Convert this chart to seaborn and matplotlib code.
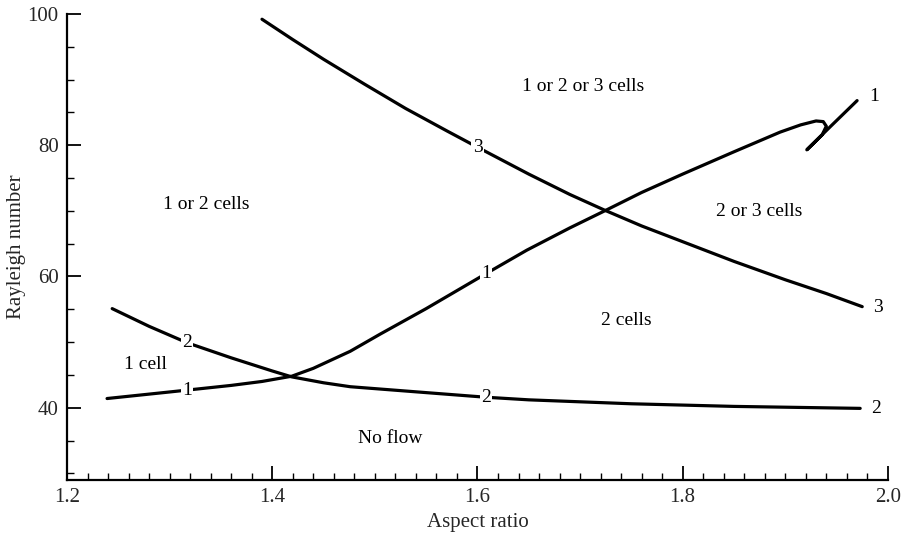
import numpy as np
import pandas as pd
import matplotlib
matplotlib.use("Agg")
import matplotlib.pyplot as plt
import seaborn as sns
from matplotlib.ticker import MultipleLocator

# curve 1 (one-cell onset), ends in a fold near aspect ratio 1.93
x1 = [1.239, 1.30, 1.36, 1.39, 1.419, 1.44, 1.476, 1.505, 1.55, 1.608, 1.648, 1.69, 1.724,
      1.76, 1.80, 1.85, 1.895, 1.915, 1.930, 1.937, 1.940, 1.936, 1.921, 1.945, 1.970]
y1 = [41.4, 42.4, 43.4, 44.0, 44.8, 46.0, 48.6, 51.2, 55.1, 60.4, 64.0, 67.4, 70.0,
      72.8, 75.6, 79.0, 82.0, 83.1, 83.7, 83.6, 82.9, 81.6, 79.3, 83.0, 86.8]

# curve 2 (two-cell onset)
x2 = [1.244, 1.28, 1.317, 1.36, 1.40, 1.419, 1.45, 1.476, 1.55, 1.608, 1.65, 1.75, 1.85, 1.973]
y2 = [55.1, 52.4, 49.9, 47.6, 45.6, 44.7, 43.8, 43.2, 42.3, 41.6, 41.2, 40.6, 40.2, 39.9]

# curve 3 (three-cell onset)
x3 = [1.39, 1.42, 1.45, 1.49, 1.53, 1.57, 1.60, 1.65, 1.69, 1.724, 1.76, 1.80, 1.85, 1.90, 1.94, 1.975]
y3 = [99.2, 96.1, 93.1, 89.3, 85.6, 82.2, 79.7, 75.6, 72.5, 70.1, 67.7, 65.3, 62.3, 59.5, 57.4, 55.4]

# inline curve labels
lab_text = ["1", "1", "1", "2", "2", "2", "3", "3"]
lab_x = [1.317, 1.608, 1.982, 1.317, 1.608, 1.984, 1.600, 1.986]
lab_y = [42.6, 60.5, 87.4, 49.9, 41.6, 39.9, 79.7, 55.3]

# region labels
reg_text = ["1 or 2 or 3 cells", "1 or 2 cells", "2 or 3 cells", "2 cells", "1 cell", "No flow"]
reg_x = [1.703, 1.336, 1.875, 1.745, 1.276, 1.515]
reg_y = [88.9, 70.9, 69.9, 53.3, 46.6, 35.3]

sns.set_theme(style="ticks")
plt.rcParams["font.family"] = ["Liberation Serif", "DejaVu Serif"]

fig, ax = plt.subplots(figsize=(9.06, 5.38), dpi=100)
fig.subplots_adjust(left=0.074, right=0.980, top=0.974, bottom=0.108)

for xs, ys in [(x1, y1), (x2, y2), (x3, y3)]:
    df = pd.DataFrame({"x": xs, "y": ys})
    sns.lineplot(data=df, x="x", y="y", sort=False, estimator=None,
                 color="black", linewidth=2.3, ax=ax)

for t, x, y in zip(lab_text, lab_x, lab_y):
    ha = "left" if x > 1.97 else "center"
    ax.text(x, y, t, ha=ha, va="center", fontsize=14, color="black",
            bbox=dict(facecolor="white", edgecolor="none", pad=0.8), zorder=5)

for t, x, y in zip(reg_text, reg_x, reg_y):
    ax.text(x, y, t, ha="center", va="center", fontsize=14, color="black")

ax.set_xlim(1.2, 2.0)
ax.set_ylim(29, 100)
ax.xaxis.set_major_locator(MultipleLocator(0.2))
ax.xaxis.set_minor_locator(MultipleLocator(0.02))
ax.yaxis.set_major_locator(MultipleLocator(20))
ax.yaxis.set_minor_locator(MultipleLocator(5))
ax.xaxis.set_major_formatter(matplotlib.ticker.FormatStrFormatter("%.1f"))
ax.tick_params(which="major", direction="in", length=10, width=1.3, labelsize=15,
               color="black", pad=6)
ax.tick_params(which="minor", direction="in", length=5, width=1.0, color="black")
for s in ["top", "right"]:
    ax.spines[s].set_visible(False)
for s in ["left", "bottom"]:
    ax.spines[s].set_linewidth(1.6)
    ax.spines[s].set_color("black")

ax.set_xlabel("Aspect ratio", fontsize=15, labelpad=4)
ax.set_ylabel("Rayleigh number", fontsize=15)
ax.yaxis.set_label_coords(-0.050, 0.5)

fig.savefig("out.png", dpi=100)
